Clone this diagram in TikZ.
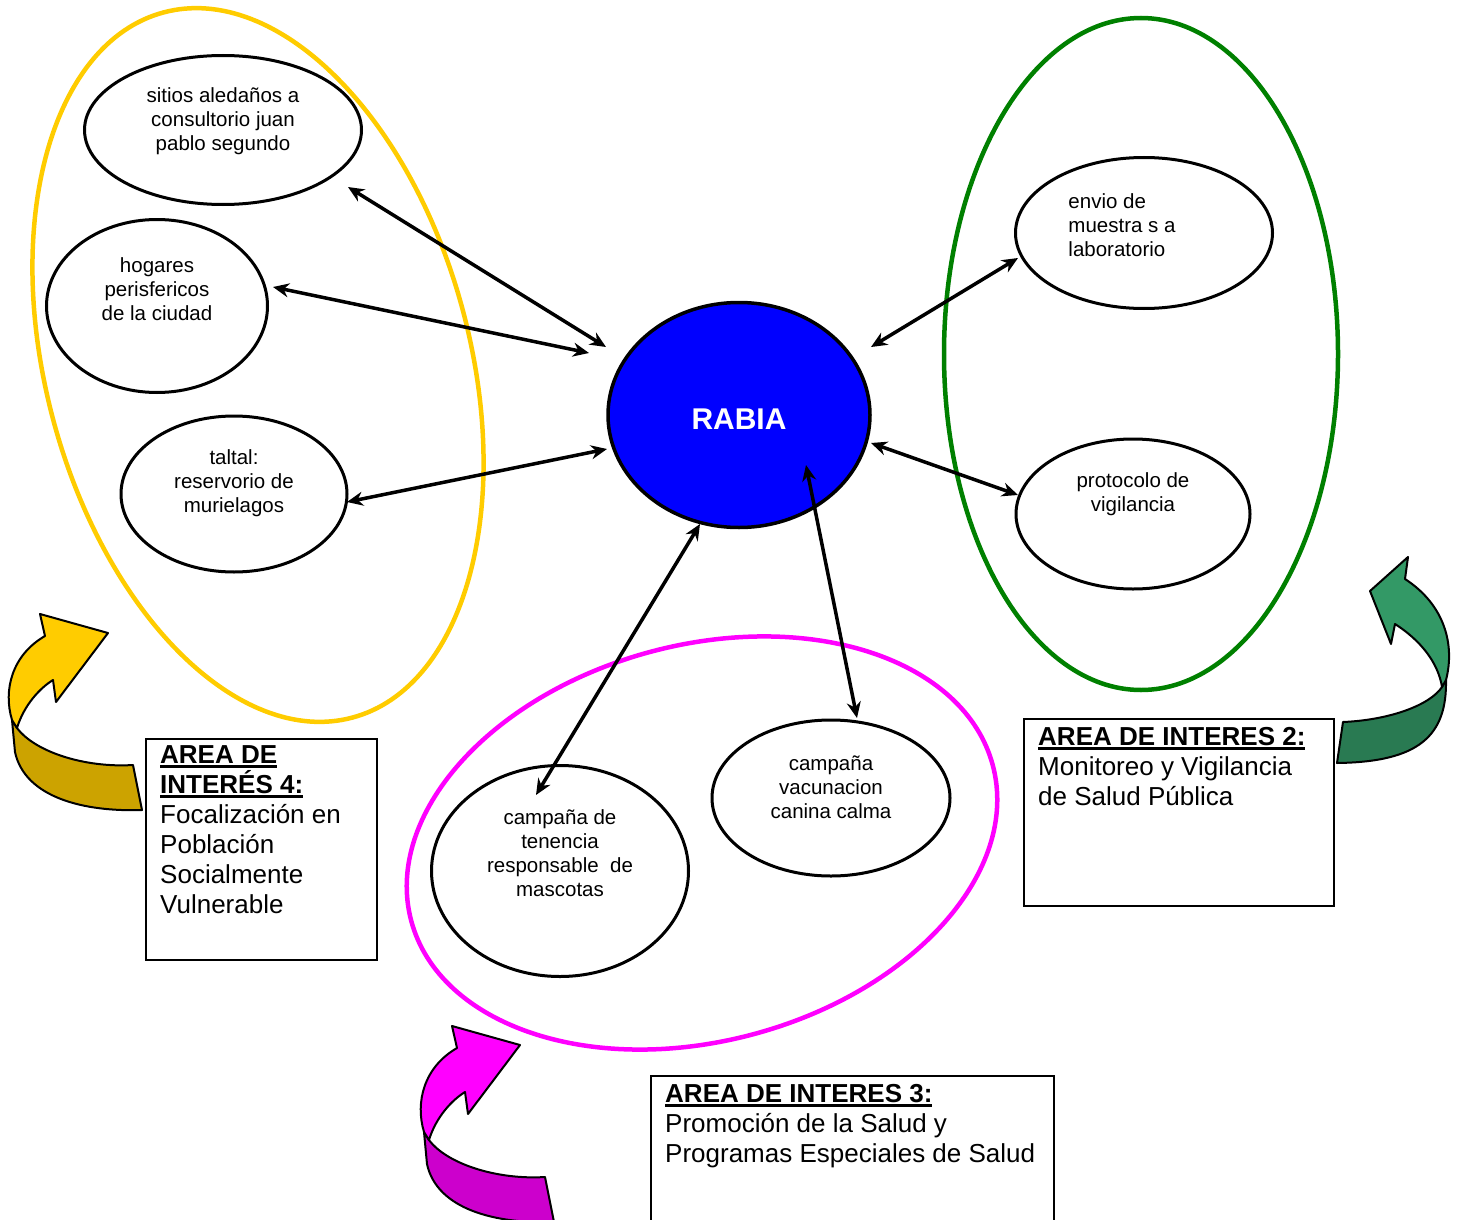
\documentclass[tikz,border=0pt]{standalone}
\usepackage{fontspec}
\setmainfont{Liberation Sans}
\usetikzlibrary{shapes.geometric,arrows.meta}

\definecolor{grpyellow}{RGB}{255,204,0}
\definecolor{grpgreen}{RGB}{0,128,0}
\definecolor{grpmagenta}{RGB}{255,0,255}
\definecolor{rabiablue}{RGB}{0,0,255}
\definecolor{arryellow}{RGB}{255,204,0}
\definecolor{arryellowdk}{RGB}{204,163,0}
\definecolor{arrgreen}{RGB}{51,153,102}
\definecolor{arrgreendk}{RGB}{41,122,82}
\definecolor{arrmagenta}{RGB}{255,0,255}
\definecolor{arrmagentadk}{RGB}{204,0,204}

\newcommand{\undl}[1]{\setbox0=\hbox{#1}\rlap{\rule[-4.5pt]{\wd0}{2.5pt}}\box0}

\begin{document}
\begin{tikzpicture}[x=1pt, y=1pt,
    bub/.style={ellipse, draw, line width=3pt, fill=white},
    bubtxt/.style={align=center, inner sep=0pt, font=\fontsize{20.5}{24}\selectfont},
    areabox/.style={draw, line width=2pt, anchor=north west, inner sep=0pt},
    areatxt/.style={align=left, anchor=north west, inner sep=0pt, font=\fontsize{26}{30}\selectfont},
    link/.style={<->, line width=3.5pt, >={Stealth[length=16pt, width=14pt]}},
    grp/.style={line width=4.5pt}]
    \useasboundingbox (0,0) rectangle (1462,-1220);

    % Draw area ellipses
    \draw[grp, grpyellow] (258,-365) ellipse[x radius=212, y radius=365, rotate=15];
    \draw[grp, grpgreen] (1141,-354) ellipse[x radius=197, y radius=336];
    \draw[grp, grpmagenta] (702,-843) ellipse[x radius=301, y radius=198, rotate=15];

    % Draw bent arrows (yellow and magenta have the same shape)
    \foreach \dx/\dy/\lt/\dk in {0/0/arryellow/arryellowdk, 412/-412/arrmagenta/arrmagentadk} {
        \begin{scope}[shift={(\dx,\dy)}, line width=2pt, line join=round]
            \filldraw[fill=\dk] (12,-720) -- (17,-728) .. controls (35,-752) and (85,-768) .. (133,-765)
                -- (142,-810) .. controls (85,-812) and (25,-798) .. (15,-752) -- cycle;
            \filldraw[fill=\lt] (40,-614) -- (108,-633) -- (56,-702) -- (53,-680)
                .. controls (40,-688) and (24,-705) .. (17,-728) -- (12,-720)
                .. controls (3,-690) and (12,-655) .. (45,-636) -- cycle;
        \end{scope}
    }
    \begin{scope}[line width=2pt, line join=round]
        \filldraw[fill=arrgreendk] (1442,-687) -- (1446,-680) .. controls (1447,-735) and (1420,-762) .. (1337,-763)
            -- (1343,-722) .. controls (1390,-720) and (1430,-705) .. (1442,-687) -- cycle;
        \filldraw[fill=arrgreen] (1408,-557) -- (1370,-591) -- (1391,-644) -- (1395,-624)
            .. controls (1420,-640) and (1438,-662) .. (1442,-687) -- (1446,-680)
            .. controls (1455,-645) and (1445,-605) .. (1405,-579) -- cycle;
    \end{scope}

    % Draw area boxes
    \node[areabox, minimum width=231pt, minimum height=221pt,
        label={[areatxt, xshift=15pt, yshift=-7pt]north west:{\undl{\bfseries AREA DE}\\\undl{\bfseries INTERÉS 4:}\\Focalización en\\Población\\Socialmente\\Vulnerable}}]
        (area4) at (145,-738) {};
    \node[areabox, minimum width=310pt, minimum height=187pt,
        label={[areatxt, xshift=15pt, yshift=-9pt]north west:{\undl{\bfseries AREA DE INTERES 2:}\\Monitoreo y Vigilancia\\de Salud Pública}}]
        (area2) at (1023,-718) {};
    \node[areabox, minimum width=403pt, minimum height=175pt,
        label={[areatxt, xshift=15pt, yshift=-9pt]north west:{\undl{\bfseries AREA DE INTERES 3:}\\Promoción de la Salud y\\Programas Especiales de Salud}}]
        (area3) at (650,-1075) {};

    % Draw topic ellipses
    \node[bub, minimum width=277pt, minimum height=149pt,
        label={[bubtxt, yshift=9pt]center:{sitios aledaños a\\consultorio juan\\pablo segundo}}] (sitios) at (223,-130) {};
    \node[bub, minimum width=221pt, minimum height=173pt,
        label={[bubtxt, yshift=17pt]center:{hogares\\perisfericos\\de la ciudad}}] (hogares) at (157,-306) {};
    \node[bub, minimum width=226pt, minimum height=156pt,
        label={[bubtxt, yshift=11pt]center:{taltal:\\reservorio de\\murielagos}}] (taltal) at (234,-494) {};
    \node[bub, minimum width=257pt, minimum height=151pt,
        label={[bubtxt, align=left, xshift=-22pt, yshift=8pt]center:{envio de\\muestra s a\\laboratorio}}] (envio) at (1144,-233) {};
    \node[bub, minimum width=234pt, minimum height=150pt,
        label={[bubtxt, yshift=20pt]center:{protocolo de\\vigilancia}}] (protocolo) at (1133,-514) {};
    \node[bub, minimum width=257pt, minimum height=211pt,
        label={[bubtxt, yshift=18pt]center:{campaña de\\tenencia\\responsable~ de\\mascotas}}] (tenencia) at (560,-871) {};
    \node[bub, minimum width=238pt, minimum height=156pt,
        label={[bubtxt, yshift=11pt]center:{campaña\\vacunacion\\canina calma}}] (vacunacion) at (831,-798) {};

    % Draw central node
    \node[ellipse, draw, line width=3.5pt, fill=rabiablue, minimum width=262pt, minimum height=225pt,
        text=white, font=\fontsize{30}{36}\selectfont\bfseries, text height=28pt] (rabia) at (739,-415) {RABIA};

    % Draw links
    \draw[link] ([shift={(125,-57)}]sitios.center) -- ([shift={(-133,68)}]rabia.center);
    \draw[link] ([shift={(116,19)}]hogares.center) -- ([shift={(-150,62)}]rabia.center);
    \draw[link] ([shift={(113,-8)}]taltal.center) -- ([shift={(-132,-34)}]rabia.center);
    \draw[link] ([shift={(-126,-25)}]envio.center) -- ([shift={(132,68)}]rabia.center);
    \draw[link] ([shift={(-115,19)}]protocolo.center) -- ([shift={(132,-28)}]rabia.center);
    \draw[link] ([shift={(-24,76)}]tenencia.center) -- ([shift={(-39,-109)}]rabia.center);
    \draw[link] ([shift={(26,80)}]vacunacion.center) -- ([shift={(67,-50)}]rabia.center);
\end{tikzpicture}
\end{document}
